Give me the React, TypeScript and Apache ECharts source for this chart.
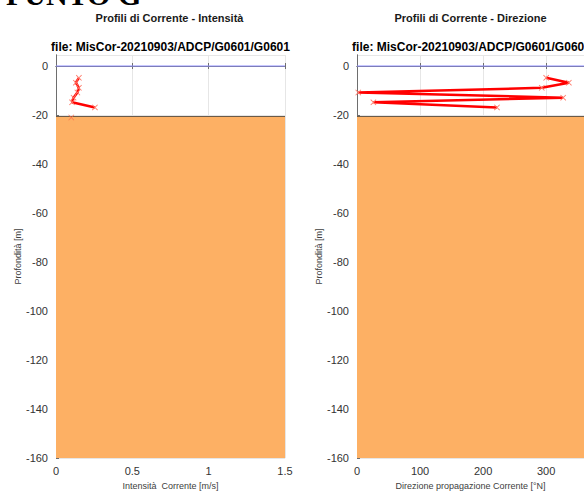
import React, { useEffect, useRef } from "react";
import * as echarts from "echarts";

const depths = [-4.8, -6.8, -8.9, -10.8, -12.9, -14.8, -16.9];
const intensity = [0.15, 0.13, 0.15, 0.14, 0.115, 0.105, 0.255];
const direction = [300, 336, 293, 2, 327, 26, 222];
const seabedDepth = -20.6;
const bottomMarker = [0.1, -21];
const surfaceDepth = 0;
const depthMin = -160;
const depthMax = 4.5;
const intensityMax = 1.5;
const directionMax = 360;

const mainTitle = "PUNTO G";
const titleLeft = "Profili di Corrente - Intensità";
const titleRight = "Profili di Corrente - Direzione";
const fileLabel = "file: MisCor-20210903/ADCP/G0601/G0601";
const yName = "Profondità [m]";
const xNameLeft = "Intensità  Corrente [m/s]";
const xNameRight = "Direzione propagazione Corrente [°N]";

const XSYM =
  "path://M0,1 L1,0 L5,4 L9,0 L10,1 L6,5 L10,9 L9,10 L5,6 L1,10 L0,9 L4,5 Z";

const FONT = "Liberation Sans, Arial, sans-serif";

export default function App() {
  const ref = useRef<HTMLDivElement>(null);
  useEffect(() => {
    const chart = echarts.init(ref.current!, null, { renderer: "svg" });
    const grids = [
      { left: 56, top: 55, width: 229, height: 413 },
      { left: 357, top: 55, width: 235, height: 413 },
    ];
    const xMaxes = [intensityMax, directionMax];
    const xIntervals = [0.5, 100];
    const xNames = [xNameLeft, xNameRight];
    const axisCommon = {
      axisLine: { show: true, lineStyle: { color: "#6e6e6e", width: 1 } },
      axisTick: { show: true, inside: true, length: 3, lineStyle: { color: "#6e6e6e" } },
      splitLine: { show: true, lineStyle: { color: "#e6e6e6", width: 1 } },
    };
    const xAxis: any[] = [];
    const yAxis: any[] = [];
    [0, 1].forEach((i) => {
      xAxis.push({
        type: "value",
        gridIndex: i,
        min: 0,
        max: xMaxes[i],
        interval: xIntervals[i],
        name: xNames[i],
        nameLocation: "middle",
        nameGap: 16,
        nameTextStyle: { fontSize: 9, color: "#404040", fontFamily: FONT },
        axisLabel: {
          fontSize: 11,
          color: "#333",
          fontFamily: FONT,
          margin: 7,
          showMaxLabel: i === 0,
        },
        ...axisCommon,
      });
      xAxis.push({
        type: "value",
        gridIndex: i,
        position: "top",
        min: 0,
        max: xMaxes[i],
        interval: xIntervals[i],
        axisLabel: { show: false },
        axisLine: { show: true, lineStyle: { color: "#6e6e6e", width: 1 } },
        axisTick: { show: true, inside: true, length: 3, lineStyle: { color: "#6e6e6e" } },
        splitLine: { show: false },
      });
      yAxis.push({
        type: "value",
        gridIndex: i,
        min: depthMin,
        max: depthMax,
        interval: 20,
        name: yName,
        nameLocation: "middle",
        nameGap: 33,
        nameTextStyle: { fontSize: 9, color: "#404040", fontFamily: FONT },
        axisLabel: {
          fontSize: 11,
          color: "#333",
          fontFamily: FONT,
          margin: 8,
          showMaxLabel: false,
        },
        ...axisCommon,
      });
      yAxis.push({
        type: "value",
        gridIndex: i,
        position: "right",
        min: depthMin,
        max: depthMax,
        interval: 20,
        axisLabel: { show: false },
        axisLine: { show: true, lineStyle: { color: "#6e6e6e", width: 1 } },
        axisTick: { show: false },
        splitLine: { show: false },
      });
    });

    const series: any[] = [];
    [0, 1].forEach((i) => {
      const xa = i * 2;
      const ya = i * 2;
      const xmax = xMaxes[i];
      series.push({
        type: "line",
        xAxisIndex: xa,
        yAxisIndex: ya,
        data: [
          [0, seabedDepth],
          [xmax, seabedDepth],
        ],
        showSymbol: false,
        symbol: "none",
        lineStyle: { color: "#6b5a48", width: 1.2 },
        areaStyle: { color: "#FDB064", opacity: 1, origin: "start" },
        z: 1,
        silent: true,
      });
      series.push({
        type: "line",
        xAxisIndex: xa,
        yAxisIndex: ya,
        data: [
          [0, surfaceDepth],
          [xmax, surfaceDepth],
        ],
        symbol: "none",
        lineStyle: { color: "#8c8cff", width: 1 },
        z: 2,
        silent: true,
      });
      const vals = i === 0 ? intensity : direction;
      series.push({
        type: "line",
        xAxisIndex: xa,
        yAxisIndex: ya,
        data: depths.map((d, k) => [vals[k], d]),
        symbol: XSYM,
        symbolSize: 6,
        showAllSymbol: true,
        itemStyle: { color: "#ff7a6a" },
        lineStyle: { color: "#ff0000", width: 2.5 },
        z: 3,
      });
    });
    series.push({
      type: "scatter",
      xAxisIndex: 0,
      yAxisIndex: 0,
      data: [bottomMarker],
      symbol: XSYM,
      symbolSize: 6,
      itemStyle: { color: "#ff6a4a" },
      z: 4,
    });

    const centers = [56 + 229 / 2, 357 + 229 / 2];
    const graphics: any[] = [
      {
        type: "text",
        x: 6,
        y: 9,
        style: {
          text: mainTitle,
          font: "bold 30px 'Liberation Serif', 'Times New Roman', serif",
          fill: "#000",
          verticalAlign: "bottom",
        },
      },
    ];
    [titleLeft, titleRight].forEach((t, i) => {
      graphics.push({
        type: "text",
        x: centers[i] - 1,
        y: 18,
        style: {
          text: t,
          font: `bold 11px ${FONT}`,
          fill: "#1a1a1a",
          align: "center",
          verticalAlign: "middle",
        },
      });
      graphics.push({
        type: "text",
        x: centers[i],
        y: 47,
        style: {
          text: fileLabel,
          font: `bold 12px ${FONT}`,
          fill: "#000",
          align: "center",
          verticalAlign: "middle",
        },
      });
    });

    chart.setOption({
      animation: false,
      backgroundColor: "#fff",
      grid: grids,
      xAxis,
      yAxis,
      series,
      graphic: graphics,
    });
    return () => chart.dispose();
  }, []);
  return (
    <div
      ref={ref}
      style={{ position: "absolute", left: 0, top: 0, width: 584, height: 495 }}
    />
  );
}
